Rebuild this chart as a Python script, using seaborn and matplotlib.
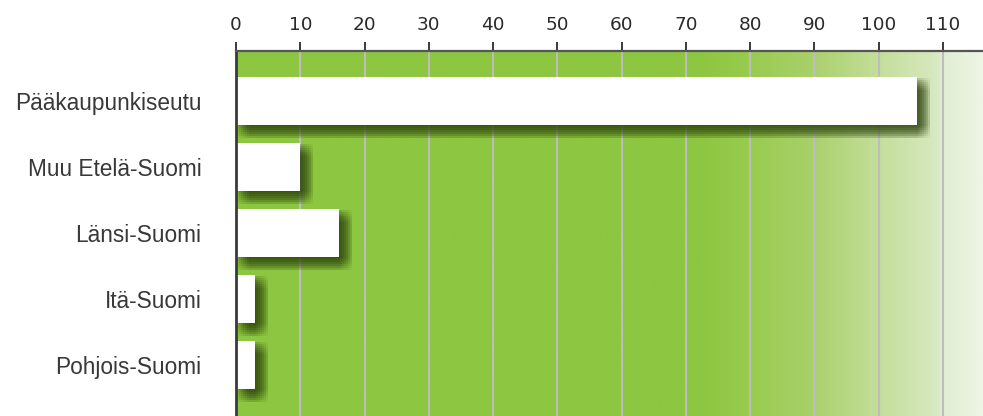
import numpy as np
import matplotlib
matplotlib.use("Agg")
import matplotlib.pyplot as plt
import matplotlib.patheffects as pe
from matplotlib.colors import LinearSegmentedColormap
import seaborn as sns

# Data
regions = ["Pääkaupunkiseutu", "Muu Etelä-Suomi", "Länsi-Suomi", "Itä-Suomi", "Pohjois-Suomi"]
values = [106, 10, 16, 3, 3]
x_ticks = [0, 10, 20, 30, 40, 50, 60, 70, 80, 90, 100, 110]

sns.set_theme(style="white")
plt.rcParams["font.family"] = ["DejaVu Sans"]

W, H, DPI = 983, 416, 100
fig = plt.figure(figsize=(W / DPI, H / DPI), dpi=DPI)
ax_left_px, ax_top_px = 236, 51
ax = fig.add_axes([ax_left_px / W, 0, 1 - ax_left_px / W, 1 - ax_top_px / H])

XMAX = (W - ax_left_px) / 6.427

# Plot background: flat green fading to pale on the right
px_stops = [236, 700, 750, 810, 870, 935, 945, 983]
rgb_stops = [(141, 198, 64), (141, 198, 64), (152, 203, 78), (168, 208, 105),
             (192, 220, 148), (215, 232, 190), (225, 238, 210), (238, 245, 228)]
frac = [(p - 236) / (W - 236) for p in px_stops]
cmap = LinearSegmentedColormap.from_list(
    "bg", [(f, tuple(c / 255 for c in rgb)) for f, rgb in zip(frac, rgb_stops)])
grad = np.linspace(0, 1, 512).reshape(1, -1)
ax.imshow(grad, cmap=cmap, aspect="auto", extent=[0, 1, 0, 1],
          transform=ax.transAxes, zorder=0, interpolation="bilinear")

# Vertical grid lines
for t in x_ticks[1:]:
    ax.axvline(t, color="#bdbdbd", lw=1.5, zorder=1)

# Bars
sns.barplot(x=values, y=regions, orient="h", color="white", width=0.73,
            saturation=1, ax=ax, zorder=3)

# Soft drop shadow built from faint offset copies (box blur)
pt = 72 / DPI
shadow = []
steps = range(1, 15, 2)
for dx in steps:
    for dy in steps:
        shadow.append(pe.SimplePatchShadow(offset=(dx * pt, -dy * pt),
                                           shadow_rgbFace=(0.20, 0.29, 0.08),
                                           alpha=0.034))
for p in ax.patches:
    p.set_edgecolor("none")
    p.set_path_effects(shadow + [pe.Normal()])

ax.set_xlim(0, XMAX)
ax.set_ylim(4.77, -0.76)
ax.set_xlabel("")
ax.set_ylabel("")

# Axis ticks on top
ax.xaxis.tick_top()
ax.set_xticks(x_ticks)
ax.set_xticklabels([str(t) for t in x_ticks])
ax.tick_params(axis="x", which="major", length=6.5, width=1.4, color="#3a3a3a",
               labelsize=13.3, labelcolor="#2a2a2a", pad=6, direction="out")
ax.tick_params(axis="y", length=0, pad=25, labelsize=16.3, labelcolor="#383838")
for lab in ax.get_yticklabels():
    lab.set_fontfamily(["Liberation Sans", "DejaVu Sans"])

for side in ["right", "bottom"]:
    ax.spines[side].set_visible(False)
ax.spines["top"].set_color("#555555")
ax.spines["top"].set_linewidth(1.6)
ax.spines["left"].set_color("#3a3a3a")
ax.spines["left"].set_linewidth(2.0)
for s in ax.spines.values():
    s.set_zorder(5)

fig.savefig("out.png", dpi=DPI)
